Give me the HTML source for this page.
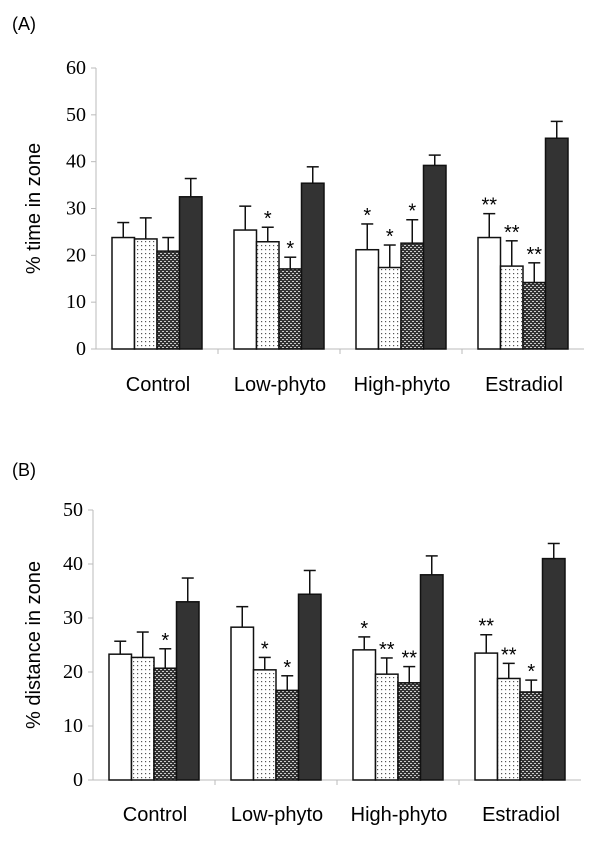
<!DOCTYPE html>
<html><head><meta charset="utf-8"><style>
html,body{margin:0;padding:0;background:#fff;}
svg{display:block;}
</style></head><body>
<svg id="chart" width="600" height="844" viewBox="0 0 600 844" xmlns="http://www.w3.org/2000/svg">
<defs>
<pattern id="dots" width="4" height="4" patternUnits="userSpaceOnUse"><rect width="4" height="4" fill="#fff"/><rect x="1" y="1" width="1.2" height="1.2" fill="#555"/></pattern>
<pattern id="check" width="4" height="4" patternUnits="userSpaceOnUse"><rect width="4" height="4" fill="#333"/><rect x="0" y="1" width="2" height="1" fill="#ccc"/><rect x="2" y="3" width="2" height="1" fill="#ccc"/></pattern>
</defs>
<g id="root"></g>
</svg>
<script>
const categories = ["Control","Low-phyto","High-phyto","Estradiol"];
const fills = ["#fff","url(#dots)","url(#check)","#333"];
const valuesA = [[23.8,23.5,20.9,32.5],[25.4,22.9,17.1,35.4],[21.2,17.4,22.6,39.2],[23.8,17.7,14.2,45.0]];
const errorsA = [[27.0,28.0,23.8,36.4],[30.5,26.0,19.6,38.9],[26.7,22.2,27.6,41.4],[28.9,23.1,18.4,48.6]];
const starsA = [["","","",""],["","*","*",""],["*","*","*",""],["**","**","**",""]];
const ticksA = [0,10,20,30,40,50,60];
const valuesB = [[23.3,22.7,20.7,33.0],[28.3,20.4,16.6,34.4],[24.1,19.6,18.0,38.0],[23.5,18.8,16.3,41.0]];
const errorsB = [[25.7,27.4,24.3,37.4],[32.1,22.7,19.3,38.8],[26.5,22.6,21.0,41.5],[26.9,21.6,18.5,43.8]];
const starsB = [["","","*",""],["","*","*",""],["*","**","**",""],["**","**","*",""]];
const ticksB = [0,10,20,30,40,50];

const NS="http://www.w3.org/2000/svg";
const root=document.getElementById('root');
function mk(tag,attrs,parent,text){const e=document.createElementNS(NS,tag);for(const k in attrs)e.setAttribute(k,attrs[k]);if(text!==undefined)e.textContent=text;(parent||root).appendChild(e);return e;}

function panel(p){
  const g=mk('g',{});
  
  
  const y=v=>p.y0-(v-0)*(p.y0-p.yTop)/p.max;
  const catW=122, bw=22.5;
  const lab=mk('text',{x:12,y:p.labY,'font-family':'Liberation Sans, sans-serif','font-size':18},g,p.letter);
  
  
  const ax=mk('line',{x1:p.ax,y1:p.yTop,x2:p.ax,y2:p.y0,stroke:'#bbb','stroke-width':1},g);
  
  
  const xa=mk('line',{x1:p.ax,y1:p.y0,x2:p.ax+4*catW,y2:p.y0,stroke:'#bbb','stroke-width':1},g);
  
  
  p.ticks.forEach(t=>{
    mk('line',{x1:p.ax-5,y1:y(t),x2:p.ax,y2:y(t),stroke:'#bbb'},g);
    const tl=mk('text',{x:p.ax-10,y:y(t)+6,'text-anchor':'end','font-family':'Liberation Serif, serif','font-size':20},g,String(t));
    
    
  });
  for(let i=1;i<4;i++) mk('line',{x1:p.ax+i*catW,y1:p.y0,x2:p.ax+i*catW,y2:p.y0+5,stroke:'#bbb'},g);
  const yt=mk('text',{x:0,y:0,transform:`translate(${p.titleX},${(p.y0+p.yTop)/2}) rotate(-90)`,'text-anchor':'middle','font-family':'Liberation Sans, sans-serif','font-size':20},g,p.title);
  
  
  categories.forEach((c,ci)=>{
    const gx=p.ax+ci*catW+16;
    const cl=mk('text',{x:p.ax+ci*catW+catW/2+1,y:p.labelY,'text-anchor':'middle','font-family':'Liberation Sans, sans-serif','font-size':20},g,c);
    
    
    for(let s=0;s<4;s++){
      const x=gx+s*bw, v=p.vals[ci][s], e=p.errs[ci][s];
      const cx=x+bw/2;
      const el=mk('line',{x1:cx,y1:y(v),x2:cx,y2:y(e),stroke:'#111','stroke-width':1.5},g);
      
      
      mk('line',{x1:cx-6,y1:y(e),x2:cx+6,y2:y(e),stroke:'#111','stroke-width':1.5},g);
      const r=mk('rect',{x:x,y:y(v),width:bw,height:p.y0-y(v),fill:fills[s],stroke:'#111','stroke-width':1.5},g);
      
      
      const st=p.stars[ci][s];
      if(st){
        const t=mk('text',{x:cx,y:y(e)-2,'text-anchor':'middle','font-family':'Liberation Sans, sans-serif','font-size':20},g,st);
        
        
      }
    }
  });
}
panel({name:'panel-a',letter:'(A)',labY:30,ax:96,y0:349,yTop:68,max:60,ticks:ticksA,title:'% time in zone',titleX:40,labelY:391,vals:valuesA,errs:errorsA,stars:starsA});
panel({name:'panel-b',letter:'(B)',labY:476,ax:93,y0:780,yTop:510,max:50,ticks:ticksB,title:'% distance in zone',titleX:40,labelY:821,vals:valuesB,errs:errorsB,stars:starsB});
</script>
</body></html>
